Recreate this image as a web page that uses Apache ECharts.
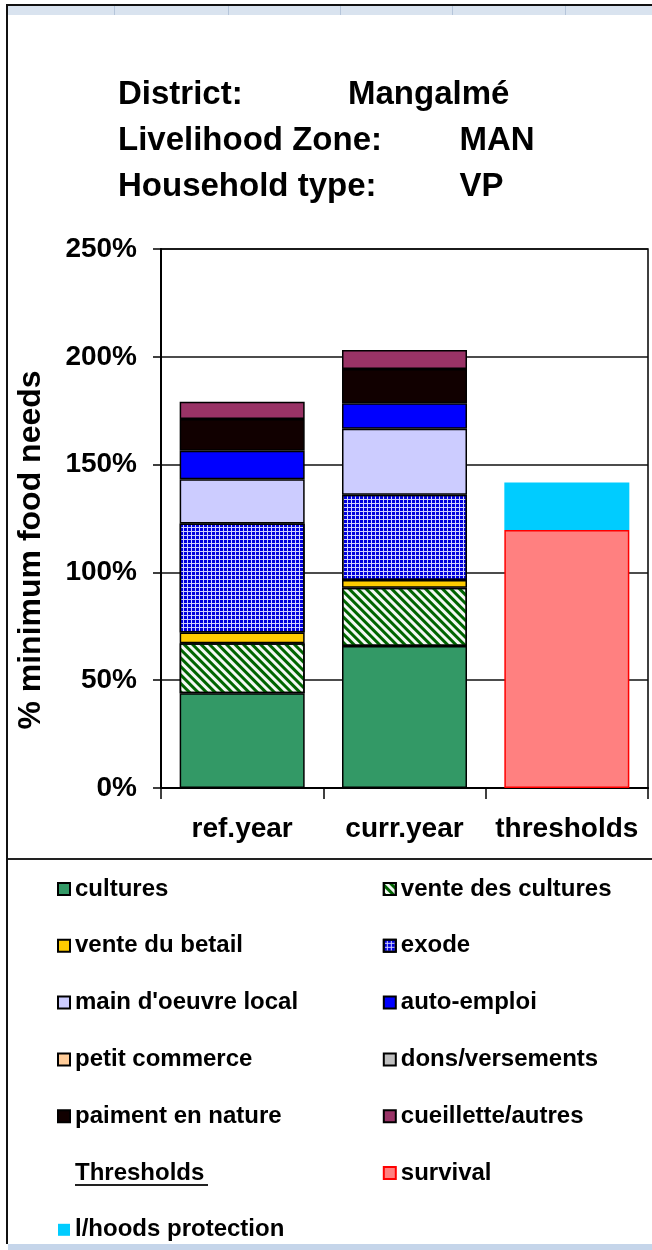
<!DOCTYPE html>
<html>
<head>
<meta charset="utf-8">
<script src="https://cdn.jsdelivr.net/npm/echarts@6/dist/echarts.min.js"></script>
<style>
html,body{margin:0;padding:0;background:#fff;}
#chart{width:652px;height:1250px;}
</style>
</head>
<body>
<div id="chart"></div>
<script>
// ---- data ----
const categories = ['ref.year', 'curr.year', 'thresholds'];
const cultures       = [43.9, 65.9];
const venteCultures  = [23.2, 27.0];
const venteBetail    = [5.0, 3.6];
const exode          = [50.6, 39.5];
const mainOeuvre     = [20.5, 30.6];
const autoEmploi     = [13.2, 11.9];
const petitCommerce  = [0, 0];
const dons           = [0, 0];
const paiment        = [14.7, 15.8];
const cueillette     = [8.0, 8.8];
const survival       = [119.7];
const lhoods         = [22.0];
const yMax = 250, yStep = 50;

const titleLabels = ['District:', 'Livelihood Zone:', 'Household type:'];
const titleValues = ['Mangalmé', 'MAN', 'VP'];

// ---- helpers ----
const FONT = '"Liberation Sans", Arial, sans-serif';
const incomeVals = v => [v[0] === 0 ? '-' : v[0], v[1] === 0 ? '-' : v[1], '-'];
const thrVals = v => ['-', '-', v[0]];
const border = { borderColor: '#000', borderWidth: 1.5 };

function incomeSeries(name, vals, itemStyle) {
  return {
    name, type: 'bar', stack: 'a', barWidth: 125,
    data: incomeVals(vals),
    itemStyle: Object.assign({}, border, itemStyle)
  };
}

const series = [
  incomeSeries('cultures', cultures, { color: '#339966' }),
  incomeSeries('vente des cultures', venteCultures, {
    color: '#f4f8f4',
    decal: { symbol: 'rect', color: '#006400', dashArrayX: [1, 0], dashArrayY: [3, 3], rotation: Math.PI / 4 }
  }),
  incomeSeries('vente du betail', venteBetail, { color: '#FFCC00' }),
  incomeSeries('exode', exode, {
    color: '#d0d0ff',
    decal: { symbol: 'rect', symbolSize: 1, color: '#0000dd', dashArrayX: [3, 1], dashArrayY: [3, 1], rotation: 0 }
  }),
  incomeSeries("main d'oeuvre local", mainOeuvre, { color: '#CCCCFF' }),
  incomeSeries('auto-emploi', autoEmploi, { color: '#0000FF' }),
  incomeSeries('petit commerce', petitCommerce, { color: '#FFCC99' }),
  incomeSeries('dons/versements', dons, { color: '#C0C0C0' }),
  incomeSeries('paiment en nature', paiment, { color: '#110000' }),
  incomeSeries('cueillette/autres', cueillette, { color: '#993366' }),
  { name: 'Thresholds', type: 'line', data: [], symbol: 'none' },
  { name: 'survival', type: 'bar', stack: 'a', barWidth: 125, data: thrVals(survival),
    itemStyle: { color: '#FF8080', borderColor: '#FF0000', borderWidth: 1.5 } },
  { name: 'l/hoods protection', type: 'bar', stack: 'a', barWidth: 125, data: thrVals(lhoods),
    itemStyle: { color: '#00CCFF', borderWidth: 0 } }
];

const legendNames = ['cultures', 'vente des cultures', 'vente du betail', 'exode',
  "main d'oeuvre local", 'auto-emploi', 'petit commerce', 'dons/versements',
  'paiment en nature', 'cueillette/autres', 'Thresholds', 'survival', 'l/hoods protection'];

const graphics = [
  // excel-like frame
  { type: 'rect', shape: { x: 8, y: 6, width: 644, height: 9 }, style: { fill: '#d9e3ef' }, silent: true },
  { type: 'rect', shape: { x: 6, y: 4, width: 646, height: 2 }, style: { fill: '#111' }, silent: true },
  { type: 'rect', shape: { x: 6, y: 4, width: 2, height: 1240 }, style: { fill: '#111' }, silent: true },
  { type: 'rect', shape: { x: 8, y: 858, width: 644, height: 2 }, style: { fill: '#222' }, silent: true },
  { type: 'rect', shape: { x: 8, y: 1244, width: 644, height: 6 }, style: { fill: '#c5d5ea' }, silent: true },
  // underline of "Thresholds"
  { type: 'rect', shape: { x: 75, y: 1184, width: 133, height: 2 }, style: { fill: '#222' }, silent: true }
];
[114, 228, 340, 452, 565].forEach(x => graphics.push(
  { type: 'rect', shape: { x: x, y: 6, width: 1, height: 9 }, style: { fill: '#b5c5da' }, silent: true }));
const rowsY = [93.5, 139.5, 185.5];
titleLabels.forEach((t, i) => {
  graphics.push({ type: 'text', left: 118, top: rowsY[i] - 15,
    style: { text: t, font: 'bold 33px ' + FONT, fill: '#000' } });
});
const valX = [348, 459.5, 459.5];
titleValues.forEach((t, i) => {
  graphics.push({ type: 'text', left: valX[i], top: rowsY[i] - 15,
    style: { text: t, font: 'bold 33px ' + FONT, fill: '#000' } });
});

const chart = echarts.init(document.getElementById('chart'), null, { renderer: 'canvas' });
chart.setOption({
  animation: false,
  backgroundColor: '#fff',
  textStyle: { fontFamily: FONT },
  grid: { left: 161, top: 249, width: 487, height: 539, show: true, borderColor: '#000', borderWidth: 1.5, backgroundColor: 'transparent' },
  xAxis: {
    type: 'category', data: categories,
    axisLine: { lineStyle: { color: '#000', width: 2 } },
    axisTick: { show: true, length: 11, interval: 0, lineStyle: { color: '#000', width: 1.5 } },
    axisLabel: { color: '#000', fontSize: 28, fontWeight: 'bold', margin: 27, fontFamily: FONT, interval: 0, hideOverlap: false }
  },
  yAxis: {
    type: 'value', min: 0, max: yMax, interval: yStep,
    name: '% minimum food needs', nameLocation: 'middle', nameGap: 114, nameRotate: 90,
    nameTextStyle: { color: '#000', fontSize: 32, fontWeight: 'bold', fontFamily: FONT, padding: [0, 63, 0, 0] },
    axisLine: { show: true, lineStyle: { color: '#000', width: 2 } },
    axisTick: { show: true, length: 8, lineStyle: { color: '#000', width: 1.5 } },
    axisLabel: { color: '#000', fontSize: 28, fontWeight: 'bold', margin: 24, fontFamily: FONT, formatter: '{value}%' },
    splitLine: { show: true, lineStyle: { color: '#111', width: 1.5 } }
  },
  legend: {
    left: 52, top: 872, width: 640, orient: 'horizontal',
    itemWidth: 12, itemHeight: 12, itemGap: 32.8, selectedMode: false,
    textStyle: { color: '#000', fontSize: 24, fontWeight: 'bold', fontFamily: FONT, width: 275, lineHeight: 24 },
    data: legendNames.map(n => n === 'Thresholds' ? { name: n, icon: 'none' } : { name: n, icon: 'rect' })
  },
  series: series,
  graphic: graphics
});
</script>
</body>
</html>
